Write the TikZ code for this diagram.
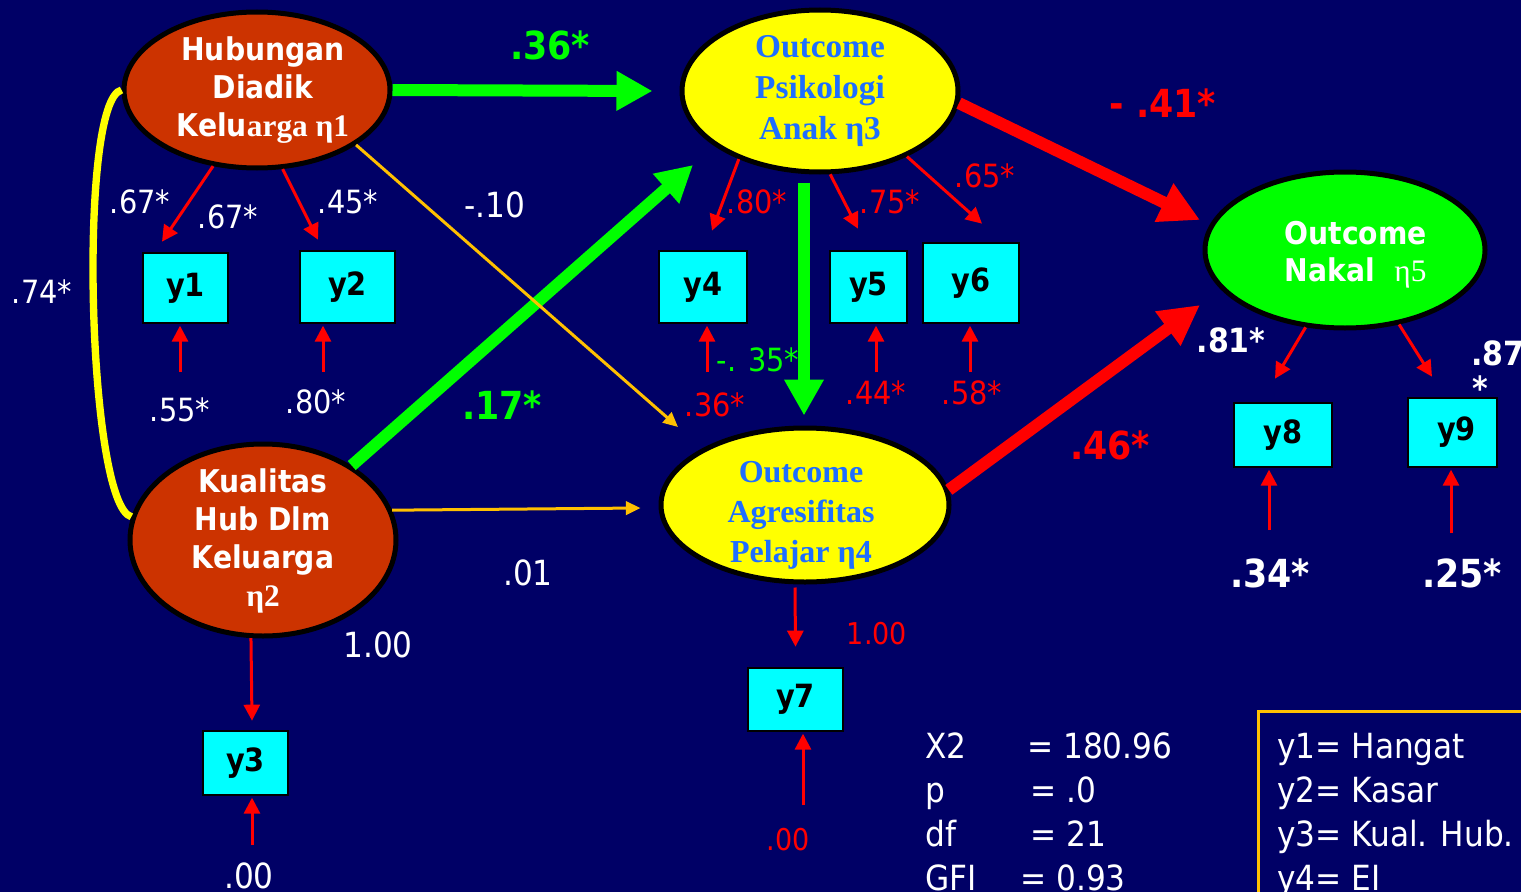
\documentclass[tikz,border=0pt]{standalone}
\usepackage{fontspec}
\setmainfont{DejaVu Sans Condensed}
\newfontfamily\tms{Liberation Serif}
\usetikzlibrary{arrows.meta,shapes.geometric,calc}
\definecolor{bg}{HTML}{000066}
\definecolor{brn}{HTML}{CC3300}
\definecolor{yel}{HTML}{FFFF00}
\definecolor{grn}{HTML}{00FF00}
\definecolor{cyn}{HTML}{00FFFF}
\definecolor{rd}{HTML}{FF0000}
\definecolor{gold}{HTML}{FFC000}
\definecolor{blu}{HTML}{1E6EFF}
\tikzset{
  lat/.style={ellipse, draw=black, line width=3.75pt, inner sep=0pt, align=center},
  latb/.style={lat, fill=brn, text=white, font=\bfseries\fontsize{23.5}{28.5}\selectfont},
  laty/.style={lat, fill=yel, text=blu, font=\tms\bfseries\fontsize{25}{31}\selectfont},
  obs/.style={rectangle, fill=cyn, draw=black, line width=2pt, inner sep=0pt, text=black, font=\bfseries\fontsize{24}{28}\selectfont},
  ld/.style={draw=rd, line width=2.25pt, -{Triangle[length=12pt,width=12pt]}},
  err/.style={ld, shorten >=1pt},
  org/.style={draw=gold, line width=2.25pt, -{Triangle[length=11pt,width=10pt]}},
  gthick/.style={draw=grn, line width=9pt, -{Triangle[length=27pt,width=28pt]}},
  rthick/.style={draw=rd, line width=9pt, -{Triangle[length=30pt,width=30pt]}},
  wl/.style={text=white, font=\fontsize{24}{28}\selectfont},
  wlb/.style={text=white, font=\fontsize{26}{30}\selectfont},
  rl/.style={text=rd, font=\fontsize{24}{28}\selectfont},
  rls/.style={text=rd, font=\fontsize{22.5}{26}\selectfont},
  bigb/.style={font=\bfseries\fontsize{29}{33}\selectfont},
  stat/.style={text=white, anchor=base west, font=\fontsize{26}{30}\selectfont, inner sep=0pt}
}
\begin{document}
\begin{tikzpicture}[x=0.75pt,y=-0.75pt]
\useasboundingbox (0,0) rectangle (1521,892);
\clip (0,0) rectangle (1521,892);
\fill[bg] (0,0) rectangle (1521,892);

% latent variables
\node[latb, minimum width=199.5pt, minimum height=117pt] (e1) at (257,90)
  {\hspace*{9pt}Hubungan\\\hspace*{9pt}Diadik\\\hspace*{9pt}Kelu{\tms arga η1}};
\node[latb, minimum width=199.5pt, minimum height=144pt] (e2) at (263,540)
  {\raisebox{-8pt}[0pt][0pt]{\begin{tabular}{@{}c@{}}Kualitas\\Hub Dlm\\Keluarga\\{\tms η2}\end{tabular}}};
\node[laty, minimum width=207pt, minimum height=121.5pt] (e3) at (820,91)
  {Outcome\\Psikologi\\Anak η3};
\node[laty, minimum width=216pt, minimum height=115.5pt, font=\tms\bfseries\fontsize{24}{30}\selectfont] (e4) at (805,505)
  {\hspace*{-6pt}\raisebox{-13pt}[0pt][0pt]{\begin{tabular}{@{}c@{}}Outcome\\Agresifitas\\Pelajar η4\end{tabular}}};
\node[lat, fill=grn, text=white, minimum width=210pt, minimum height=117pt, font=\bfseries\fontsize{23.5}{28}\selectfont] (e5) at (1345,250)
  {\rule{0pt}{24pt}\hspace*{16pt}Outcome\\\hspace*{16pt}Nakal\ \ {\tms\mdseries η5}};

% observed variables
\node[obs, minimum width=63.75pt, minimum height=52.5pt] (y1) at (185.5,288) {y1};
\node[obs, minimum width=71.25pt, minimum height=54pt] (y2) at (347.5,287) {y2};
\node[obs, minimum width=63.75pt, minimum height=48pt] (y3) at (245.5,763) {y3};
\node[obs, minimum width=66pt, minimum height=54pt] (y4) at (703,287) {y4};
\node[obs, minimum width=57.75pt, minimum height=54pt] (y5) at (868.5,287) {y5};
\node[obs, minimum width=72pt, minimum height=60pt] (y6) at (971,283) {y6};
\node[obs, minimum width=71.25pt, minimum height=47.25pt] (y7) at (795.5,699.5) {y7};
\node[obs, minimum width=73.5pt, minimum height=48pt] (y8) at (1283,435) {y8};
\node[obs, minimum width=66.75pt, minimum height=51.75pt] (y9) at (1452.5,432.5) {\hspace*{6pt}y9};

% correlation curve
\draw[draw=yel, line width=5.5pt] (e1.west) .. controls ($(e1.west)+(-44,10)$) and ($(e2.170.6)+(-44,-12)$) .. (e2.170.6);

% structural paths
\draw[gthick] (e1.east) -- ($(e3.west)+(-27,0)$);
\draw[gthick] (e2.40.7) -- ($(e3)+(-127,74)$);
\draw[gthick] ($(e3.south)+(-16,8)$) -- ($(e4.north)+(-1,-10)$);
\draw[rthick] (e3.355) -- ($(e5)+(-145,-30)$);
\draw[rthick] (e4.6.1) -- ($(e5)+(-145,55)$);
\draw[org] (e1.331.3) -- ($(e4)+(-127,-78)$);
\draw[org] (e2.13.8) -- ($(e4.west)+(-18,3)$);

% loadings
\draw[ld] (e1.240.6) -- ($(y1.north)+(-23.5,-10)$);
\draw[ld] (e1.288.6) -- ($(y2.north)+(-29.5,-10)$);
\draw[ld] (e2.263.5) -- ($(y3.north)+(6.5,-9)$);
\draw[ld] (e3.220.8) -- ($(y4.north)+(9,-19)$);
\draw[ld] (e3.277.6) -- ($(y5.north)+(-10.5,-21)$);
\draw[ld] (e3.323.7) -- ($(y6.north)+(11,-18)$);
\draw[ld] ($(e4.south)+(-10,3)$) -- ($(y7.north)+(0,-20)$);
\draw[ld] (e5.243.4) -- ($(y8.north)+(-8,-23)$);
\draw[ld] (e5.306.4) -- ($(y9.north)+(-20.5,-20)$);

% error terms
\draw[err] (180,372) coordinate (u1) -- (u1 |- y1.south);
\draw[err] (323,372) coordinate (u2) -- (u2 |- y2.south);
\draw[err] (252,845) coordinate (u3) -- (u3 |- y3.south);
\draw[err] (707,372) coordinate (u4) -- (u4 |- y4.south);
\draw[err] (876,372) coordinate (u5) -- (u5 |- y5.south);
\draw[err] (970,372) coordinate (u6) -- (u6 |- y6.south);
\draw[err] (803,805) coordinate (u7) -- (u7 |- y7.south);
\draw[err] (1269,530) coordinate (u8) -- (u8 |- y8.south);
\draw[err] (1451,533) coordinate (u9) -- (u9 |- y9.south);

% big coefficients
\node[bigb, text=grn] (c13) at (550,45) {.36*};
\node[bigb, text=rd] (c35) at (1163,103) {- .41*};
\node[bigb, text=grn] (c23) at (502,405) {.17*};
\node[bigb, text=rd] (c45) at (1110,445) {.46*};

% white labels
\node[wlb] (c14) at (495,205) {-.10};
\node[wlb] (c24) at (528,573) {.01};
\node[wlb] (l3) at (378,645) {1.00};
\node[wl] (r12) at (42,292) {.74*};
\node[wl] (l1a) at (140,202) {.67*};
\node[wl] (l1b) at (228,217) {.67*};
\node[wl] (l2) at (348,202) {.45*};
\node[wl] (d1) at (180,410) {.55*};
\node[wl] (d2) at (316,402) {.80*};
\node[wlb] (d3) at (249,876) {.00};

% red labels
\node[rl] (l4) at (757,202) {.80*};
\node[rl] (l5) at (890,202) {.75*};
\node[rl] (l6) at (985,176) {.65*};
\node[rl] (d4) at (715,405) {.36*};
\node[rl] (d5) at (876,393) {.44*};
\node[rl] (d6) at (972,393) {.58*};
\node[rls] (l7) at (877,634) {1.00};
\node[rls] (d7) at (788,840) {.00};
\node[text=grn, font=\fontsize{24}{28}\selectfont] (c34) at (758,360) {-. 35*};

% right side labels
\node[text=white, font=\bfseries\fontsize{25}{28}\selectfont] (l8) at (1231,340) {.81*};
\node[text=white, font=\bfseries\fontsize{25}{28}\selectfont, anchor=west, inner sep=0pt] (l9) at (1471,353) {.87};
\node[text=white, font=\bfseries\fontsize{25}{28}\selectfont] (l9s) at (1480,388) {*};
\node[text=white, bigb] (d8) at (1270,573) {.34*};
\node[text=white, bigb] (d9) at (1462,573) {.25*};

% fit statistics
\node[stat] (s1) at (925,758) {X2};
\node[stat] (s1v) at (1027,758) {= 180.96};
\node[stat] (s2) at (925,802) {p};
\node[stat] (s2v) at (1030,802) {= .0};
\node[stat] (s3) at (925,846) {df};
\node[stat] (s3v) at (1030,846) {= 21};
\node[stat] (s4) at (925,890) {GFI};
\node[stat] (s4v) at (1020,890) {= 0.93};

% legend
\draw[draw=gold, line width=2.25pt] (1258,950) -- (1258,711) -- (1600,711);
\node[stat] (g1) at (1277,758) {y1= Hangat};
\node[stat] (g2) at (1277,802) {y2= Kasar};
\node[stat] (g3) at (1277,846) {y3= Kual. Hub.};
\node[stat] (g4) at (1277,890) {y4= EI};
\end{tikzpicture}
\end{document}
